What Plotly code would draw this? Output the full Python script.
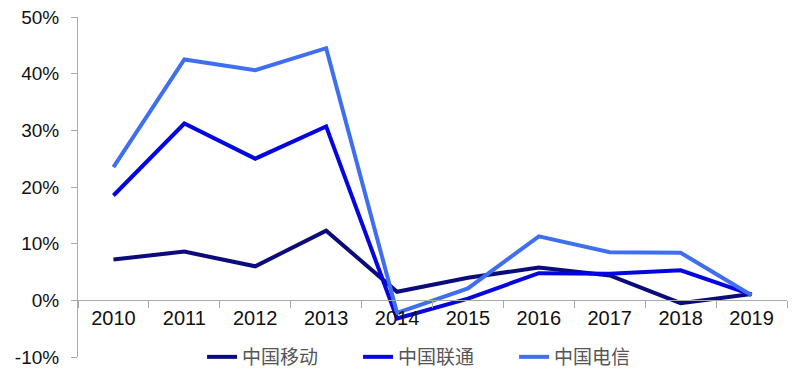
import plotly.graph_objects as go

years = ["2010", "2011", "2012", "2013", "2014", "2015", "2016", "2017", "2018", "2019"]
mobile = [7.2, 8.6, 6.0, 12.3, 1.5, 4.0, 5.8, 4.4, -0.5, 1.1]
unicom = [18.5, 31.2, 25.0, 30.7, -3.2, 0.3, 4.8, 4.7, 5.3, 1.0]
telecom = [23.5, 42.5, 40.6, 44.5, -2.2, 2.1, 11.3, 8.5, 8.4, 0.9]

y_ticks = [-10, 0, 10, 20, 30, 40, 50]
y_ticktext = ["-10%", "0%", "10%", "20%", "30%", "40%", "50%"]

names = ["中国移动", "中国联通", "中国电信"]
colors = ["#0b0b7c", "#0505e0", "#3f6ff0"]

fig = go.Figure()
for name, vals, c in zip(names, [mobile, unicom, telecom], colors):
    fig.add_trace(go.Scatter(x=years, y=vals, name=name, mode="lines",
                             line=dict(color=c, width=4)))

fig.update_layout(
    width=800, height=379,
    margin=dict(l=78, r=13, t=17, b=22, autoexpand=False),
    paper_bgcolor="white", plot_bgcolor="white",
    font=dict(family="Liberation Sans, Arial", color="#111111"),
    showlegend=True,
    legend=dict(orientation="h", x=0.175, xanchor="left", y=0.0, yanchor="middle",
                font=dict(family="Noto Sans CJK SC", size=19, color="#555555"),
                entrywidth=111, entrywidthmode="pixels", bgcolor="rgba(0,0,0,0)"),
    xaxis=dict(type="category", anchor="free", position=1/6,
               showline=True, linecolor="#aaaaaa", linewidth=1,
               ticks="outside", tickson="boundaries", ticklen=7, tickcolor="#aaaaaa",
               tickfont=dict(size=20, color="#111111"), showgrid=False,
               range=[-0.5, 9.5]),
    yaxis=dict(range=[-10, 50], tickvals=y_ticks, ticktext=y_ticktext,
               showline=True, linecolor="#aaaaaa", linewidth=1,
               ticks="outside", ticklen=6, tickcolor="#aaaaaa",
               ticklabelstandoff=8,
               tickfont=dict(size=19, color="#111111"), showgrid=False,
               zeroline=False),
)

fig.write_html("out.html")
